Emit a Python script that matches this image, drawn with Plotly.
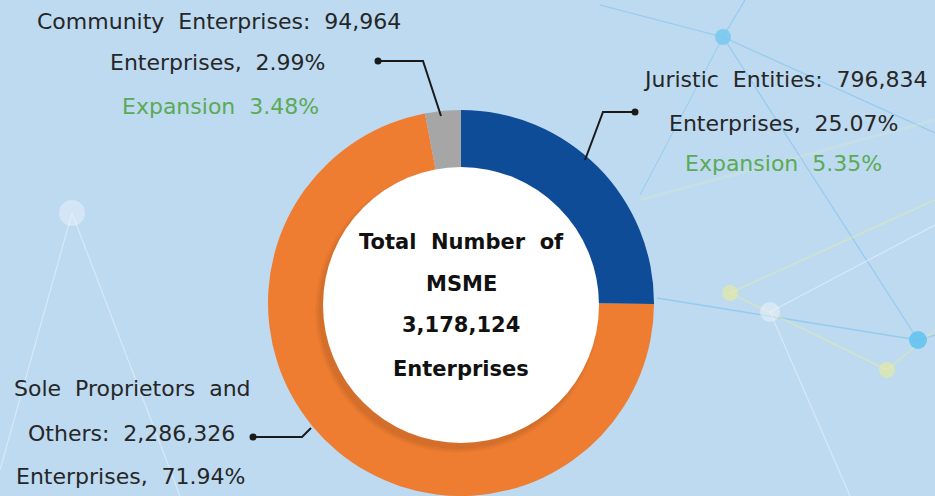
import plotly.graph_objects as go

# --- data -------------------------------------------------------------
segments = ["Juristic Entities", "Sole Proprietors and Others", "Community Enterprises"]
enterprise_counts = [796834, 2286326, 94964]
share_pct = [25.07, 71.94, 2.99]
expansion_pct = [5.35, None, 3.48]
total_enterprises = 3178124
segment_colors = ["#0E4C97", "#EE7D31", "#A6A6A6"]

W, H = 935, 496
BG = "#BDDAF1"
TEXT = "#262626"
GREEN = "#5BAA55"
FONT = "DejaVu Sans"


def px(x):
    return x / W


def py(y):
    return 1 - y / H


# donut geometry (pixels)
cx, cy, r = 461, 303, 193

fig = go.Figure()
fig.add_trace(go.Pie(
    labels=segments,
    values=enterprise_counts,
    marker=dict(colors=segment_colors, line=dict(width=0)),
    hole=0.70,
    sort=False,
    direction="clockwise",
    rotation=0,
    textinfo="none",
    hoverinfo="label+value+percent",
    showlegend=False,
    domain=dict(x=[px(cx - r), px(cx + r)], y=[py(cy + r), py(cy - r)]),
))

shapes = []

# background network decoration
def seg(x0, y0, x1, y1, color, width=1.2):
    shapes.append(dict(type="line", xref="paper", yref="paper", layer="below",
                       x0=px(x0), y0=py(y0), x1=px(x1), y1=py(y1),
                       line=dict(color=color, width=width)))


def dot(x, y, rad, color):
    shapes.append(dict(type="circle", xref="paper", yref="paper", layer="below",
                       x0=px(x - rad), y0=py(y + rad), x1=px(x + rad), y1=py(y - rad),
                       fillcolor=color, line=dict(width=0)))


blue_line = "rgba(110,190,235,0.5)"
white_line = "rgba(255,255,255,0.4)"
yellow_line = "rgba(225,235,170,0.45)"

seg(600, 5, 723, 37, blue_line)
seg(723, 37, 745, 0, blue_line)
seg(723, 37, 935, 133, blue_line)
seg(723, 37, 918, 340, blue_line)
seg(723, 37, 640, 195, blue_line, 1)
seg(657, 298, 918, 340, blue_line, 1.5)
seg(918, 340, 935, 335, blue_line)
seg(770, 312, 935, 225, white_line)
seg(770, 312, 850, 496, white_line)
seg(730, 293, 887, 370, yellow_line, 2)
seg(730, 293, 935, 200, yellow_line, 2)
seg(887, 370, 935, 330, yellow_line, 2)
seg(72, 213, 0, 470, white_line)
seg(72, 213, 180, 496, white_line)
seg(640, 200, 935, 120, "rgba(235,240,190,0.2)", 3)
dot(723, 37, 8, "rgba(120,200,240,0.85)")
dot(918, 340, 9, "rgba(100,195,240,0.9)")
dot(770, 312, 10, "rgba(240,245,250,0.5)")
dot(730, 293, 8, "rgba(230,235,160,0.65)")
dot(887, 370, 8, "rgba(230,235,160,0.65)")
dot(72, 213, 13, "rgba(235,242,250,0.5)")

# white centre disc with a soft drop shadow toward the lower left
for rad, a in [(142, 0.04), (140, 0.05), (138, 0.06)]:
    shapes.append(dict(type="circle", xref="paper", yref="paper", layer="above",
                       x0=px(cx - 4 - rad), y0=py(cy + 8 + rad),
                       x1=px(cx - 4 + rad), y1=py(cy + 8 - rad),
                       fillcolor=f"rgba(60,30,10,{a})", line=dict(width=0)))
shapes.append(dict(type="circle", xref="paper", yref="paper", layer="above",
                   x0=px(cx - 138), y0=py(cy + 2 + 138), x1=px(cx + 138), y1=py(cy + 2 - 138),
                   fillcolor="white", line=dict(width=0)))

# leader lines
def path(points):
    d = "M " + " L ".join(f"{px(x)},{py(y)}" for x, y in points)
    shapes.append(dict(type="path", xref="paper", yref="paper", layer="above", path=d,
                       line=dict(color="#1A1A1A", width=2)))
    x, y = points[0]
    shapes.append(dict(type="circle", xref="paper", yref="paper", layer="above",
                       x0=px(x - 3.5), y0=py(y + 3.5), x1=px(x + 3.5), y1=py(y - 3.5),
                       fillcolor="#1A1A1A", line=dict(width=0)))


path([(378, 61), (423, 61), (441, 116)])
path([(635, 112), (603, 112), (585, 160)])
path([(253, 437), (302, 437), (311, 428)])

fig.update_layout(shapes=shapes)

# labels
def label(x, y, text, color=TEXT, size=22, weight=400):
    fig.add_annotation(x=px(x), y=py(y), xref="paper", yref="paper", text=text,
                       showarrow=False, xanchor="center", yanchor="middle",
                       font=dict(family=FONT, size=size, color=color, weight=weight))


def fmt(n):
    return f"{n:,}"


label(219, 22, f"Community  Enterprises:  {fmt(enterprise_counts[2])}")
label(218, 63, f"Enterprises,  {share_pct[2]:.2f}%")
label(220, 106, f"Expansion  {expansion_pct[2]:.2f}%", color=GREEN)

label(785, 80, f"Juristic  Entities:  {fmt(enterprise_counts[0])}")
label(784, 123, f"Enterprises,  {share_pct[0]:.2f}%")
label(783, 163, f"Expansion  {expansion_pct[0]:.2f}%", color=GREEN)

label(132, 388, "Sole  Proprietors  and")
label(131, 433, f"Others:  {fmt(enterprise_counts[1])}")
label(131, 476, f"Enterprises,  {share_pct[1]:.2f}%")

label(461, 242, "Total  Number  of", color="#111111", size=21, weight=600)
label(461, 284, "MSME", color="#111111", size=21, weight=600)
label(461, 325, fmt(total_enterprises), color="#111111", size=21, weight=600)
label(461, 369, "Enterprises", color="#111111", size=21, weight=600)

fig.update_layout(
    width=W, height=H,
    margin=dict(l=0, r=0, t=0, b=0),
    paper_bgcolor=BG, plot_bgcolor=BG,
    showlegend=False,
)

fig.write_html("out.html")
